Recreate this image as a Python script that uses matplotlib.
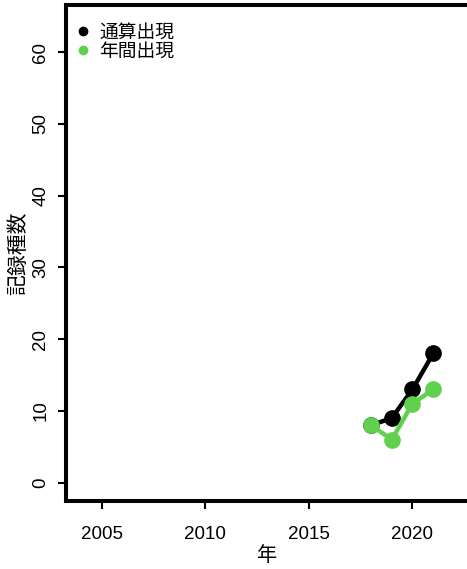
import matplotlib
matplotlib.use("Agg")
import matplotlib.pyplot as plt
from matplotlib.lines import Line2D

# データ
years = [2018, 2019, 2020, 2021]
cumulative = [8, 9, 13, 18]   # 通算出現
annual = [8, 6, 11, 13]       # 年間出現
series_labels = ["通算出現", "年間出現"]
series_colors = ["black", "#61D04F"]
x_ticks = [2005, 2010, 2015, 2020]
y_ticks = [0, 10, 20, 30, 40, 50, 60]

plt.rcParams['font.family'] = ['Liberation Sans', 'Noto Sans CJK JP', 'DejaVu Sans']

fig = plt.figure(figsize=(4.67, 5.69), dpi=100)
ax = fig.add_axes([0.1413, 0.1195, 0.8627, 0.8717])

# 系列の描画
for vals, color in zip([cumulative, annual], series_colors):
    ax.plot(years, vals, color=color, linewidth=3.2, marker='o', markersize=11,
            solid_capstyle='butt')

# 軸の範囲 (R風の4%拡張)
xmin, xmax = 2004, 2022
ymin, ymax = 0, 64
dx = (xmax - xmin) * 0.04
dy = (ymax - ymin) * 0.04
ax.set_xlim(xmin - dx, xmax + dx)
ax.set_ylim(ymin - dy, ymax + dy)

ax.set_xticks(x_ticks)
ax.set_yticks(y_ticks)
ax.tick_params(axis='both', labelsize=13.5, length=6, width=1.5)
ax.tick_params(axis='x', pad=12)
ax.tick_params(axis='y', pad=6)
for lab in ax.get_yticklabels():
    lab.set_rotation(90)
    lab.set_va('center')

for side in ['left', 'bottom', 'top']:
    ax.spines[side].set_linewidth(2.9)
ax.spines['right'].set_visible(False)

ax.set_xlabel("年", fontsize=14.5, labelpad=2)
ax.set_ylabel("記録種数", fontsize=15, labelpad=3)

# 凡例
handles = [Line2D([], [], color=c, marker='o', linestyle='none', markersize=6)
           for c in series_colors]
ax.legend(handles, series_labels, loc='upper left', frameon=False, fontsize=13.5,
          handletextpad=0.4, labelspacing=0.1, borderaxespad=0.3,
          handlelength=1.0, borderpad=0.2, bbox_to_anchor=(-0.005, 0.98))

fig.savefig("out.png", dpi=100)
